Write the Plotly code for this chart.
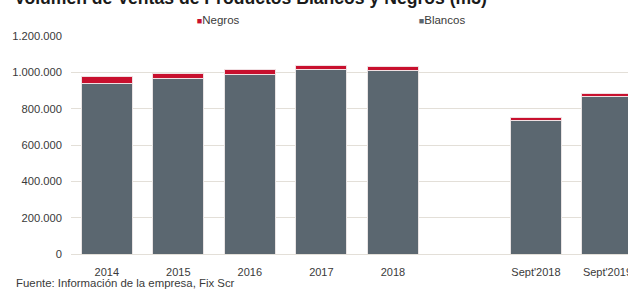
import plotly.graph_objects as go

categories = ["2014", "2015", "2016", "2017", "2018", " ", "Sept'2018", "Sept'2019"]
blancos = [940000, 968000, 988000, 1017000, 1010000, None, 735000, 869000]
negros = [35000, 27000, 27000, 22000, 22000, None, 15000, 14000]
y_ticks = [0, 200000, 400000, 600000, 800000, 1000000, 1200000]

GRAY = "#5B6770"
RED = "#C8102E"
GRID = "#E3DFD8"
TXT = "#3a3a3a"
FONT = "Liberation Sans, Arial, sans-serif"

fig = go.Figure()
fig.add_trace(go.Bar(x=categories, y=blancos, marker=dict(color=GRAY, line=dict(color="#e9e4e4", width=1)),
                     showlegend=False, name="Blancos"))
fig.add_trace(go.Bar(x=categories, y=negros, marker=dict(color=RED, line=dict(color="#f0dfe2", width=1)),
                     showlegend=False, name="Negros"))
# legend entries
fig.add_trace(go.Scatter(x=[None], y=[None], mode="markers", marker=dict(color="rgba(0,0,0,0)", size=1),
                         name=f"<span style='color:{RED};font-size:9px'>■</span>Negros"))
fig.add_trace(go.Scatter(x=[None], y=[None], mode="markers", marker=dict(color="rgba(0,0,0,0)", size=1),
                         name=f"<span style='color:{GRAY};font-size:9px'>■</span>Blancos"))

L, T, B = 71.25, 36.3, 36.5
W, H = 628, 291
pw = W - L
ph = H - T - B

def px_x(x):
    return (x - L) / pw

def px_y(y):
    return (H - B - y) / ph

fig.update_layout(
    width=W, height=H,
    margin=dict(l=L, r=0, t=T, b=B, pad=0, autoexpand=False),
    barmode="stack", bargap=0.287,
    plot_bgcolor="white", paper_bgcolor="white",
    separators=",.",
    font=dict(family=FONT, size=11, color=TXT),
    showlegend=True,
    legend=dict(orientation="h", x=px_x(157), xanchor="left", y=px_y(20), yanchor="middle",
                entrywidth=177, entrywidthmode="pixels", font=dict(size=11.5, color=TXT),
                bgcolor="rgba(0,0,0,0)", borderwidth=0, traceorder="normal"),
    xaxis=dict(type="category", categoryorder="array", categoryarray=categories,
               range=[-0.5, -0.5 + pw / 71.5], showgrid=False, showline=True, linecolor=GRID, linewidth=1,
               ticks="", ticklabelstandoff=8, tickfont=dict(size=11, color=TXT), automargin=False,
               fixedrange=True),
    yaxis=dict(range=[0, 1200000], tickvals=y_ticks, tickformat=",d", showgrid=True, gridcolor=GRID,
               gridwidth=1, zeroline=False, showline=False, ticks="", ticklabelstandoff=8,
               tickfont=dict(size=11.2, color=TXT), automargin=False, fixedrange=True),
    annotations=[
        dict(text="<b>Volumen de Ventas de Productos Blancos y Negros (m3)</b>", xref="paper", yref="paper",
             x=px_x(12), y=px_y(-2), xanchor="left", yanchor="middle", showarrow=False,
             font=dict(family="Liberation Sans, Arial, sans-serif", size=17.6, color="#1a1a1a")),
        dict(text="Fuente: Información de la empresa, Fix Scr", xref="paper", yref="paper",
             x=px_x(14), y=px_y(283.5), xanchor="left", yanchor="middle", showarrow=False,
             font=dict(family=FONT, size=11.4, color=TXT)),
    ],
)

fig.write_html("out.html", config={"displayModeBar": False},
               post_script="document.body.style.margin='0';document.body.style.overflow='hidden';")
